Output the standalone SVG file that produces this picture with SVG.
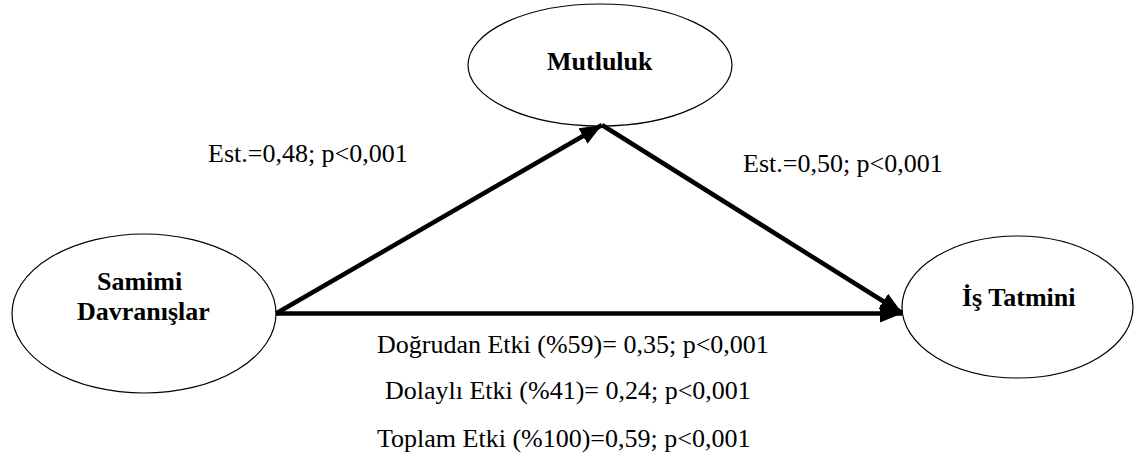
<svg xmlns="http://www.w3.org/2000/svg" width="1135" height="468" viewBox="0 0 1135 468">
<style>
.node{fill:#fff;stroke:#000;stroke-width:1.2}
.lbl{font-family:"Liberation Serif","Times New Roman",serif;font-size:26px;fill:#000}
.b{font-weight:bold}
.edge{stroke:#000;stroke-width:4.5;fill:none}
</style>
<defs>
<marker id="ah" markerUnits="userSpaceOnUse" markerWidth="24" markerHeight="20" refX="22" refY="9" orient="auto">
<path d="M0,0 L22,9 L0,18 Z" fill="#000"/>
</marker>
</defs>
<rect width="1135" height="468" fill="#fff"/>
<g id="node-mutluluk">
<ellipse class="node" cx="600" cy="65" rx="132" ry="61"/>
<text class="lbl b" x="547" y="70">Mutluluk</text>
</g>
<g id="node-samimi">
<ellipse class="node" cx="144" cy="313.5" rx="132" ry="79.5"/>
<text class="lbl b" x="97" y="290">Samimi</text>
<text class="lbl b" x="77" y="320">Davranışlar</text>
</g>
<g id="node-is">
<ellipse class="node" cx="1017.5" cy="307" rx="115.5" ry="71"/>
<text class="lbl b" x="962" y="306">İş Tatmini</text>
</g>
<g id="connectors">
<line class="edge" x1="276" y1="313.5" x2="602" y2="125" marker-end="url(#ah)"/>
<line class="edge" x1="602" y1="125" x2="902" y2="313" marker-end="url(#ah)"/>
<line class="edge" x1="276" y1="313.5" x2="902" y2="313.5" marker-end="url(#ah)"/>
</g>
<g id="labels">
<text class="lbl" x="208" y="162">Est.=0,48; p&lt;0,001</text>
<text class="lbl" x="743" y="172">Est.=0,50; p&lt;0,001</text>
<text class="lbl" x="377" y="353">Doğrudan Etki (%59)= 0,35; p&lt;0,001</text>
<text class="lbl" x="385" y="399">Dolaylı Etki (%41)= 0,24; p&lt;0,001</text>
<text class="lbl" x="377" y="447">Toplam Etki (%100)=0,59; p&lt;0,001</text>
</g>
</svg>
